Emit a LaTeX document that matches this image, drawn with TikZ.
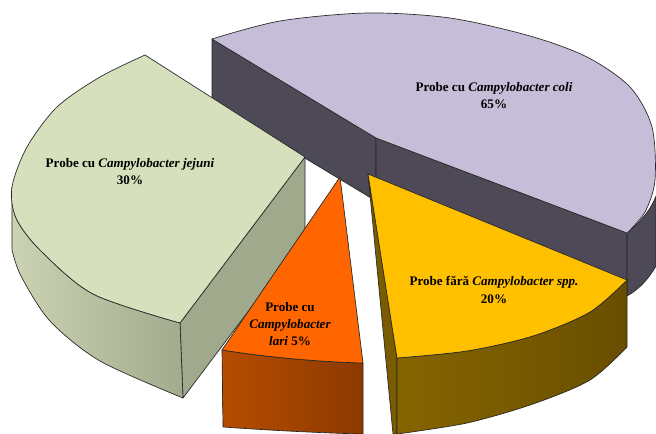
\documentclass[tikz,border=0pt]{standalone}
\usepackage{fontspec}
\setmainfont{Liberation Serif}
\usetikzlibrary{positioning}

\definecolor{coliTop}{HTML}{C6BDD8}
\definecolor{coliWall}{HTML}{4E4956}
\definecolor{jejuniTop}{HTML}{D6E0BD}
\definecolor{jejuniSideA}{HTML}{CBD3B3}
\definecolor{jejuniSideB}{HTML}{A2AB8D}
\definecolor{jejuniCut}{HTML}{A0A98C}
\definecolor{lariTop}{HTML}{FF6600}
\definecolor{lariSideA}{HTML}{B64C00}
\definecolor{lariSideB}{HTML}{8C3A00}
\definecolor{faraTop}{HTML}{FFC000}
\definecolor{faraSideA}{HTML}{866500}
\definecolor{faraSideB}{HTML}{684E00}
\definecolor{faraCut}{HTML}{7A5C00}

\begin{document}
\begin{tikzpicture}[x=0.75pt,y=-0.75pt]
        \tikzset{slice/.style={draw=black!85,
                line width=0.5pt,
                line join=round
            },
            pielabel/.style={align=center,
                font=\bfseries\fontsize{9.8}{12.8}\selectfont,
                inner sep=0pt
            },
        }
\useasboundingbox (0,0) rectangle (656,434);
%% coli (back)
\path[slice, fill=coliWall] (212,39) -- (376,138) -- (376,201) -- (212,102) -- cycle;
\path[slice, fill=coliWall] (376,138) -- (627,233) -- (627,296) -- (376,201) -- cycle;
\path[slice, fill=coliWall] (627,233) .. controls (640,222) and (651,210) .. (656,196)
    -- (656,266) .. controls (648,280) and (638,290) .. (627,296) -- cycle;
\path[slice, fill=coliTop] (212,39)
    -- plot[smooth] coordinates {(212,39) (280,21) (367,13) (450,18) (530,36) (587,57) (630,87) (652,127) (655,180) (645,212) (627,233)}
    -- (376,138) -- cycle;
%% jejuni
\path[slice, fill=jejuniCut] (305,157) -- (180,323) -- (183,398) -- (305,236) -- cycle;
\path[slice, left color=jejuniSideA, right color=jejuniSideB] (12,187)
    -- plot[smooth] coordinates {(12,187) (16,218) (40,250) (93,294) (180,323)}
    -- (183,398)
    -- plot[smooth] coordinates {(183,398) (100,361) (50,321) (21,276) (12,250)}
    -- cycle;
\path[slice, fill=jejuniTop] (305,157) -- (145,55)
    -- plot[smooth] coordinates {(145,55) (100,77) (57,107) (27,147) (12,187) (16,218) (40,250) (93,294) (180,323)}
    -- cycle;
%% lari
\path[slice, left color=lariSideA, right color=lariSideB] (222,350)
    .. controls (265,357) and (320,362) .. (363,363)
    -- (363,434) .. controls (320,433) and (265,430) .. (223,427) -- cycle;
\path[slice, fill=lariTop] (340,177) -- (222,350)
    .. controls (265,357) and (320,362) .. (363,363) -- cycle;
%% fara
\path[slice, fill=faraCut] (368,174) -- (397,358) -- (397,434) -- (393,434) -- cycle;
\path[slice, left color=faraSideA, right color=faraSideB] (397,358)
    -- plot[smooth] coordinates {(397,358) (467,351) (533,336) (590,312) (627,280)}
    -- (627,347)
    -- plot[smooth] coordinates {(627,347) (590,380) (533,404) (467,423) (397,434)}
    -- cycle;
\path[slice, fill=faraTop] (368,174) -- (627,280)
    -- plot[smooth] coordinates {(627,280) (590,312) (533,336) (467,351) (397,358)}
    -- cycle;
%% labels
\node[pielabel] (coli) at (494,96)
    {Probe cu \textit{Campylobacter coli}\\65\%};
\node[pielabel] (jejuni) at (130,172)
    {Probe cu \textit{Campylobacter jejuni}\\30\%};
\node[pielabel] (lari) at (290,324)
    {Probe cu\\\textit{Campylobacter}\\\textit{lari} 5\%};
\node[pielabel] (fara) at (494,290)
    {Probe fără \textit{Campylobacter spp.}\\20\%};
\end{tikzpicture}
\end{document}
